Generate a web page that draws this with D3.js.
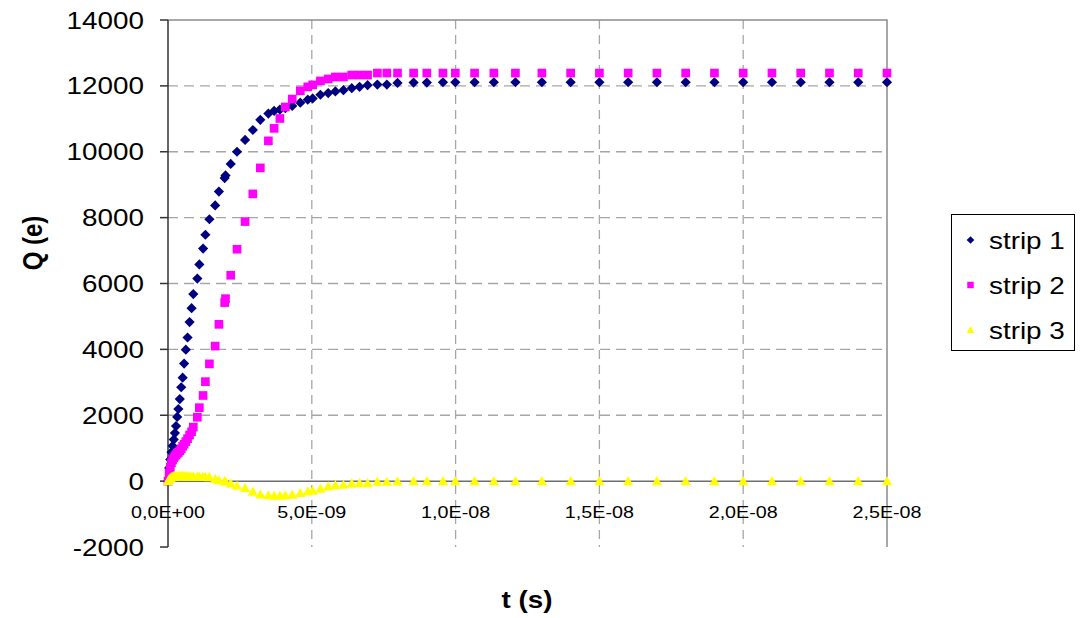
<!DOCTYPE html>
<html>
<head>
<meta charset="utf-8">
<script src="https://cdn.jsdelivr.net/npm/d3@7"></script>
<style>
  body { margin: 0; background: #fff; }
  text { font-family: Arial, "Liberation Sans", sans-serif; }
</style>
</head>
<body>
<div id="chart"></div>
<script>
const width = 1089;
const height = 618;

// time steps in ns (shared by all strips)
const tNs = [0, 0.04, 0.08, 0.12, 0.16, 0.2, 0.24, 0.28, 0.32, 0.36, 0.41, 0.46, 0.51, 0.56, 0.62, 0.68, 0.75, 0.82, 0.88,
  1.02, 1.09, 1.22, 1.30, 1.44, 1.64, 1.77, 1.97, 2.00, 2.18, 2.40, 2.68, 2.95, 3.21, 3.49, 3.69, 3.89, 4.08, 4.32, 4.60,
  4.86, 5.03, 5.30, 5.57, 5.82, 6.10, 6.39, 6.66, 6.94, 7.28, 7.61, 7.98,
  8.54, 9.0, 9.56, 9.99, 10.66, 11.33, 12.08,
  13, 14, 15, 16, 17, 18, 19, 20, 21, 22, 23, 24, 25];

const strip1 = [0, 400, 660, 880, 1070, 1260, 1460, 1670, 1950, 2190, 2490, 2850, 3140, 3570, 3990, 4360, 4830, 5250, 5680,
  6150, 6580, 7060, 7480, 7950, 8370, 8790, 9200, 9280, 9630, 10000, 10360, 10660, 10970, 11160, 11240, 11280, 11320, 11390, 11490,
  11580, 11620, 11730, 11780, 11830, 11870, 11930, 11970, 12020, 12040, 12040, 12090,
  12100, 12100, 12110, 12110, 12110, 12110, 12110,
  12110, 12110, 12110, 12110, 12110, 12110, 12110, 12110, 12110, 12110, 12110, 12110, 12110];

const strip2 = [0, 250, 420, 560, 640, 710, 760, 800, 840, 870, 920, 980, 1060, 1120, 1200, 1290, 1400, 1500, 1640,
  1940, 2230, 2600, 3020, 3560, 4100, 4760, 5420, 5540, 6250, 7040, 7880, 8720, 9510, 10330, 10710, 11010, 11360, 11600, 11850,
  11970, 12030, 12150, 12210, 12270, 12270, 12330, 12330, 12330, 12390, 12390, 12390,
  12390, 12390, 12390, 12390, 12390, 12390, 12390,
  12390, 12390, 12390, 12390, 12390, 12390, 12390, 12390, 12390, 12390, 12390, 12390, 12390];

const strip3 = [0, 60, 100, 120, 130, 140, 140, 150, 150, 150, 150, 150, 150, 150, 150, 150, 140, 140, 140,
  140, 140, 130, 130, 120, 70, 30, 0, -10, -70, -140, -210, -320, -400, -430, -440, -440, -430, -410, -360,
  -310, -290, -230, -160, -120, -110, -70, -60, -60, -20, -20, -10,
  0, 0, 0, 0, 0, 0, 0,
  0, 0, 0, 0, 0, 0, 0, 0, 0, 0, 0, 0, 0];

const seriesNames = ["strip 1", "strip 2", "strip 3"];
const seriesColors = ["#000080", "#ff00ff", "#ffff00"];
const seriesShapes = ["diamond", "square", "triangle"];
const yTicks = [-2000, 0, 2000, 4000, 6000, 8000, 10000, 12000, 14000];
const xTicks = [0, 5e-9, 1e-8, 1.5e-8, 2e-8, 2.5e-8];

const stretch = 1.16; // text in the picture is a bit wide

const margin = { left: 168, top: 20, right: width - 887, bottom: height - 547 };

const svg = d3.select("#chart").append("svg")
  .attr("width", width)
  .attr("height", height)
  .style("display", "block");

svg.append("rect").attr("width", width).attr("height", height).attr("fill", "#fff");

const x = d3.scaleLinear().domain([0, 2.5e-8]).range([margin.left, width - margin.right]);
const y = d3.scaleLinear().domain([-2000, 14000]).range([height - margin.bottom, margin.top]);

function expLabel(v) {
  const [m, e] = v.toExponential(1).split("e");
  const sign = e[0] === "-" ? "-" : "+";
  const digits = e.replace(/[+-]/, "").padStart(2, "0");
  return m.replace(".", ",") + "E" + sign + digits;
}

function addText(g, tx, ty, str, size, anchor, bold) {
  return g.append("text")
    .attr("transform", `translate(${tx},${ty}) scale(${stretch},1)`)
    .attr("text-anchor", anchor)
    .attr("font-size", size)
    .attr("font-weight", bold ? "bold" : "normal")
    .attr("fill", "#000")
    .text(str);
}

// === Grid ===
const grid = svg.append("g");
grid.selectAll("line.hg")
  .data(yTicks.filter(d => d !== -2000 && d !== 0 && d !== 14000))
  .join("line")
  .attr("class", "hg")
  .attr("x1", x(0)).attr("x2", x(2.5e-8))
  .attr("y1", d => y(d)).attr("y2", d => y(d))
  .attr("stroke", "#a6a6a6")
  .attr("stroke-width", 1.3)
  .attr("stroke-dasharray", "10,6");

grid.selectAll("line.vg")
  .data(xTicks.filter(d => d > 0 && d < 2.5e-8))
  .join("line")
  .attr("class", "vg")
  .attr("x1", d => x(d)).attr("x2", d => x(d))
  .attr("y1", y(14000)).attr("y2", y(-2000))
  .attr("stroke", "#a6a6a6")
  .attr("stroke-width", 1.3)
  .attr("stroke-dasharray", "9,6");

// top and right border
grid.append("path")
  .attr("d", `M${x(0)},${y(14000)}H${x(2.5e-8)}V${y(-2000)}`)
  .attr("fill", "none")
  .attr("stroke", "#8c8c8c")
  .attr("stroke-width", 1.5);

// === Axes ===
const yAxis = svg.append("g");
yAxis.append("line")
  .attr("x1", x(0)).attr("x2", x(0))
  .attr("y1", y(14000)).attr("y2", y(-2000))
  .attr("stroke", "#333").attr("stroke-width", 1.5);
yAxis.selectAll("line.tick")
  .data(yTicks)
  .join("line")
  .attr("class", "tick")
  .attr("x1", x(0) - 8).attr("x2", x(0))
  .attr("y1", d => y(d)).attr("y2", d => y(d))
  .attr("stroke", "#333").attr("stroke-width", 1.5);
yTicks.forEach(d => addText(yAxis, 144, y(d) + 8.5, String(d), 24, "end", false));

const xAxis = svg.append("g");
xAxis.append("line")
  .attr("x1", x(0)).attr("x2", x(2.5e-8))
  .attr("y1", y(0)).attr("y2", y(0))
  .attr("stroke", "#6e6e6e").attr("stroke-width", 1.5);
xTicks.forEach(d => addText(xAxis, x(d), y(0) + 37, expLabel(d), 17, "middle", false));

// axis titles
addText(svg, 527, 608, "t (s)", 24, "middle", true);
svg.append("text")
  .attr("transform", `translate(42,243) rotate(-90) scale(1,${stretch})`)
  .attr("text-anchor", "middle")
  .attr("font-size", 24)
  .attr("font-weight", "bold")
  .text("Q (e)");

// === Markers ===
function shapePath(shape, s) {
  if (shape === "diamond") return `M0,${-s}L${s},0L0,${s}L${-s},0Z`;
  if (shape === "square") return `M${-s * 0.85},${-s * 0.85}H${s * 0.85}V${s * 0.85}H${-s * 0.85}Z`;
  return `M0,${-s}L${s},${s * 0.8}L${-s},${s * 0.8}Z`;
}

const seriesValues = [strip1, strip2, strip3];
seriesValues.forEach((vals, i) => {
  svg.append("g")
    .selectAll("path")
    .data(tNs.map((t, j) => ({ t: t * 1e-9, q: vals[j] })))
    .join("path")
    .attr("transform", d => `translate(${x(d.t)},${y(d.q)})`)
    .attr("d", shapePath(seriesShapes[i], 5.1))
    .attr("fill", seriesColors[i]);
});

// === Legend ===
const legend = svg.append("g");
legend.append("rect")
  .attr("x", 951.5).attr("y", 214.5)
  .attr("width", 123).attr("height", 136)
  .attr("fill", "#fff")
  .attr("stroke", "#000")
  .attr("stroke-width", 1);
seriesNames.forEach((name, i) => {
  const ly = 240 + i * 45;
  legend.append("path")
    .attr("transform", `translate(970.5,${ly})`)
    .attr("d", shapePath(seriesShapes[i], 3.8))
    .attr("fill", seriesColors[i]);
  addText(legend, 989, ly + 8.5, name, 24, "start", false);
});
</script>
</body>
</html>
